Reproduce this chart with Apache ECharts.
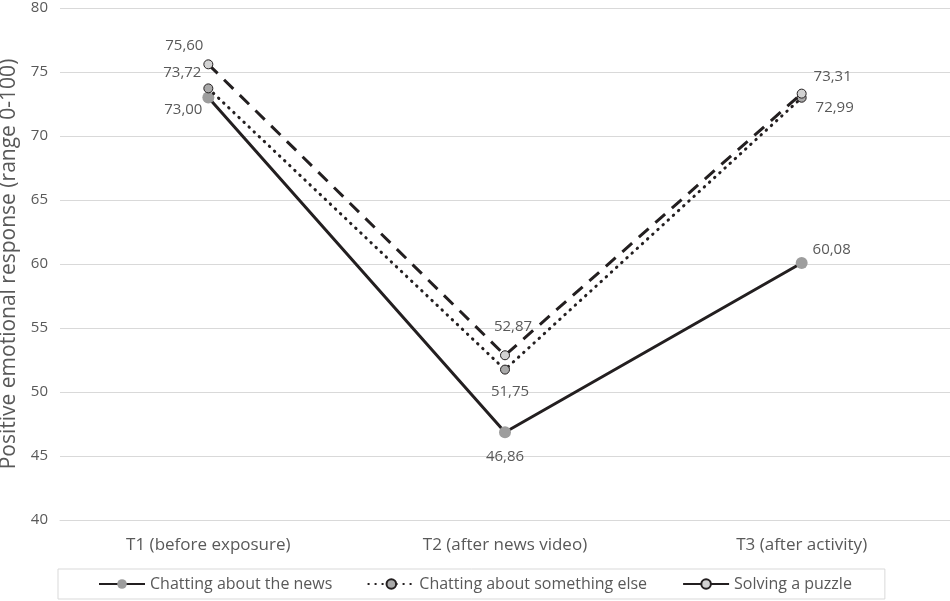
<!DOCTYPE html>
<html><head><meta charset="utf-8">
<script src="https://cdn.jsdelivr.net/npm/echarts@6/dist/echarts.min.js"></script>
<style>html,body{margin:0;padding:0;background:#fff}#c{width:950px;height:601px}</style>
</head><body><div id="c"></div>
<script>
const categories = ['T1 (before exposure)', 'T2 (after news video)', 'T3 (after activity)'];
const seriesNames = ['Chatting about the news', 'Chatting about something else', 'Solving a puzzle'];
const newsValues = [73.00, 46.86, 60.08];
const elseValues = [73.72, 51.75, 72.99];
const puzzleValues = [75.60, 52.87, 73.31];
const yTicks = [40, 45, 50, 55, 60, 65, 70, 75, 80];

const FONT = 'Open Sans';
const TXT = '#595959';
const LINE = '#231f20';
const fmt = v => v.toFixed(2).replace('.', ',');

// label offsets (dx, dy from the marker centre), per series and point
const newsOffsets = [[-25, 12], [0, 25], [30, -13]];
const elseOffsets = [[-26, -16], [5, 22], [33, 10]];
const puzzleOffsets = [[-24, -19], [8, -29], [31, -17]];

function mk(values, offsets) {
  return values.map((v, i) => ({
    value: v,
    label: { position: 'inside', offset: offsets[i] }
  }));
}
const labelBase = { show: true, color: TXT, fontSize: 15, fontFamily: FONT, formatter: p => fmt(p.value) };

const chart = echarts.init(document.getElementById('c'));
chart.setOption({
  animation: false,
  textStyle: { fontFamily: FONT },
  grid: { left: 60, right: 0, top: 8, bottom: 81, containLabel: false, outerBoundsMode: 'none' },
  legend: {
    bottom: 2, left: 58,
    padding: [7, 33, 7, 40],
    borderColor: '#d9d9d9', borderWidth: 1,
    itemWidth: 46, itemHeight: 12, itemGap: 35,
    textStyle: { color: TXT, fontSize: 16, fontFamily: FONT },
    data: [
      { name: seriesNames[0] },
      { name: seriesNames[1] },
      { name: seriesNames[2], lineStyle: { type: 'solid' } }
    ]
  },
  xAxis: {
    type: 'category', data: categories, boundaryGap: true,
    axisLine: { lineStyle: { color: '#d9d9d9', width: 1 } },
    axisTick: { show: false },
    axisLabel: { color: TXT, fontSize: 17, margin: 17 }
  },
  yAxis: {
    type: 'value', min: yTicks[0], max: yTicks[yTicks.length - 1], interval: 5,
    name: 'Positive emotional response (range 0-100)',
    nameLocation: 'middle', nameGap: 39,
    nameTextStyle: { color: TXT, fontSize: 21 },
    axisLine: { show: false }, axisTick: { show: false },
    axisLabel: { color: TXT, fontSize: 15, margin: 12 },
    splitLine: { lineStyle: { color: '#d9d9d9', width: 1 } }
  },
  series: [
    {
      name: seriesNames[0], type: 'line', z: 3,
      lineStyle: { color: LINE, width: 3, type: 'solid' },
      symbol: 'circle', symbolSize: 12,
      itemStyle: { color: '#9d9d9d', borderWidth: 0 },
      label: labelBase,
      data: mk(newsValues, newsOffsets)
    },
    {
      name: seriesNames[1], type: 'line', z: 4,
      lineStyle: { color: LINE, width: 3, type: [0.5, 6.5], cap: 'round' },
      symbol: 'circle', symbolSize: 9,
      itemStyle: { color: '#a9a9a9', borderColor: LINE, borderWidth: 1 },
      label: labelBase,
      data: mk(elseValues, elseOffsets)
    },
    {
      name: seriesNames[2], type: 'line', z: 5,
      lineStyle: { color: LINE, width: 3, type: [13, 9] },
      symbol: 'circle', symbolSize: 9,
      itemStyle: { color: '#d2d2d2', borderColor: LINE, borderWidth: 1 },
      label: labelBase,
      data: mk(puzzleValues, puzzleOffsets)
    }
  ]
});
</script></body></html>
